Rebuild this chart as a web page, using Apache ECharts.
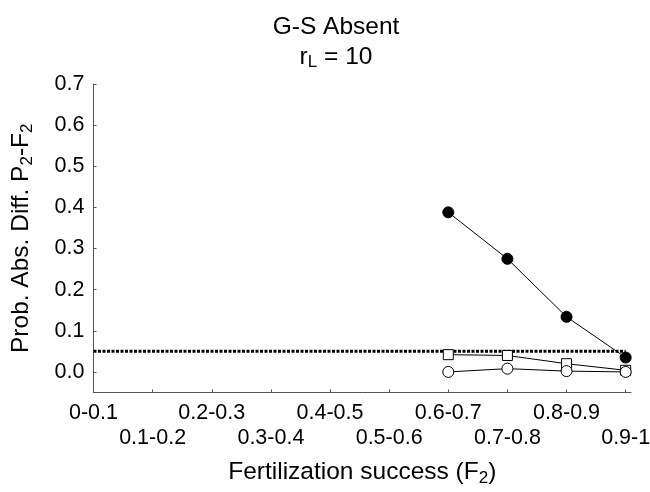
<!DOCTYPE html>
<html>
<head>
<meta charset="utf-8">
<script src="https://cdn.jsdelivr.net/npm/echarts@6/dist/echarts.min.js"></script>
<style>
    html, body { margin: 0; padding: 0; background: #ffffff; }
    #chart { width: 650px; height: 492px; }
</style>
</head>
<body>
<div id="chart"></div>
<script>
// categories of fertilization success (F2)
const fertCategories = ['0-0.1', '0.1-0.2', '0.2-0.3', '0.3-0.4', '0.4-0.5',
                        '0.5-0.6', '0.6-0.7', '0.7-0.8', '0.8-0.9', '0.9-1'];
const categoryIdx = [0, 1, 2, 3, 4, 5, 6, 7, 8, 9];

// data only exists for the last four classes
const observedIdx = [6, 7, 8, 9];
const filledCircles = [0.388, 0.275, 0.134, 0.035];
const openSquares = [0.042, 0.040, 0.020, 0.004];
const openCircles = [0.000, 0.008, 0.002, 0.000];

// dotted reference line
const thresholdIdx = [0, 9];
const thresholdValue = [0.05, 0.05];

const yTicks = [0, 0.1, 0.2, 0.3, 0.4, 0.5, 0.6, 0.7];

const fontName = 'Liberation Sans, Arial, sans-serif';
const axisColor = '#555555';

function pairs(xs, ys) {
    return xs.map((x, i) => [x, ys[i]]);
}

const subStyle = { fontSize: 17, fontFamily: fontName, color: '#000', padding: [11, 0, 0, 0] };

function getOption() {
    return {
        backgroundColor: '#ffffff',
        animation: false,
        title: [
            {
                text: 'G-S Absent',
                left: 331,
                top: 10,
                textAlign: 'center',
                textStyle: { fontFamily: fontName, fontSize: 24.5, fontWeight: 'normal', color: '#000' }
            },
            {
                text: '{m|r}{s|L}{m| = 10}',
                left: 331,
                top: 38,
                textAlign: 'center',
                textStyle: {
                    fontFamily: fontName, fontSize: 24.5, fontWeight: 'normal', color: '#000',
                    rich: {
                        m: { fontSize: 24.5, fontFamily: fontName, color: '#000' },
                        s: subStyle
                    }
                }
            }
        ],
        grid: {
            left: 93.5,
            right: 19,
            top: 84,
            bottom: 99.5,
            outerBoundsMode: 'none'
        },
        xAxis: {
            type: 'value',
            min: 0,
            max: 9.09,
            name: 'Fertilization success (F{s|2})',
            nameLocation: 'middle',
            nameGap: 66,
            nameTextStyle: {
                fontFamily: fontName, fontSize: 24.5, color: '#000',
                rich: { s: subStyle }
            },
            axisLine: { show: true, onZero: false, lineStyle: { color: axisColor, width: 1 } },
            axisTick: {
                show: true, inside: true, length: 3,
                customValues: categoryIdx,
                lineStyle: { color: axisColor }
            },
            axisLabel: {
                customValues: categoryIdx,
                margin: 8,
                fontFamily: fontName,
                fontSize: 21.5,
                lineHeight: 25,
                color: '#000',
                formatter: function (value) {
                    const label = fertCategories[Math.round(value)] || '';
                    return Math.round(value) % 2 === 1 ? '\n' + label : label;
                }
            },
            splitLine: { show: false }
        },
        yAxis: {
            type: 'value',
            min: -0.05,
            max: 0.7,
            name: 'Prob. Abs. Diff. P{s|2}-F{s|2}',
            nameLocation: 'middle',
            nameGap: 58,
            nameTextStyle: {
                fontFamily: fontName, fontSize: 24.5, color: '#000',
                rich: { s: subStyle }
            },
            axisLine: { show: true, lineStyle: { color: axisColor, width: 1 } },
            axisTick: {
                show: true, inside: true, length: 3,
                customValues: yTicks,
                lineStyle: { color: axisColor }
            },
            axisLabel: {
                customValues: yTicks,
                margin: 9,
                fontFamily: fontName,
                fontSize: 21.5,
                color: '#000',
                formatter: (v) => v.toFixed(1)
            },
            splitLine: { show: false }
        },
        series: [
            {
                name: 'threshold',
                type: 'line',
                data: pairs(thresholdIdx, thresholdValue),
                symbol: 'none',
                lineStyle: { color: '#000', width: 3, type: [3, 1.5], cap: 'butt' },
                z: 1
            },
            {
                name: 'filled',
                type: 'line',
                data: pairs(observedIdx, filledCircles),
                symbol: 'circle',
                symbolSize: 11,
                itemStyle: { color: '#000', borderColor: '#000', borderWidth: 1 },
                lineStyle: { color: '#000', width: 1 },
                z: 2
            },
            {
                name: 'squares',
                type: 'line',
                data: pairs(observedIdx, openSquares),
                symbol: 'rect',
                symbolSize: 10,
                itemStyle: { color: '#fff', borderColor: '#000', borderWidth: 1 },
                lineStyle: { color: '#000', width: 1 },
                z: 3
            },
            {
                name: 'open',
                type: 'line',
                data: pairs(observedIdx, openCircles),
                symbol: 'circle',
                symbolSize: 11,
                itemStyle: { color: '#fff', borderColor: '#000', borderWidth: 1 },
                lineStyle: { color: '#000', width: 1 },
                z: 4
            }
        ]
    };
}

const myChart = echarts.init(document.getElementById('chart'));
myChart.setOption(getOption());
</script>
</body>
</html>
